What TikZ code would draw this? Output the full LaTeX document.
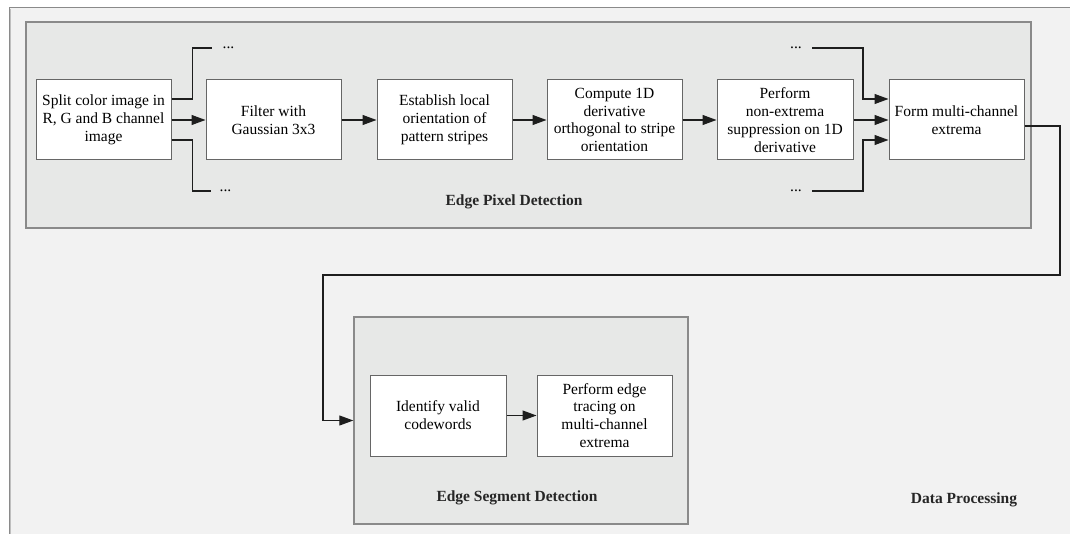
\documentclass[tikz,border=0pt]{standalone}
\usepackage{fontspec}
\setmainfont{Liberation Serif}
\usetikzlibrary{arrows.meta}
\definecolor{outerfill}{HTML}{F2F2F2}
\definecolor{panelfill}{HTML}{E7E8E7}
\definecolor{panelline}{HTML}{8A8A8A}
\definecolor{boxline}{HTML}{666666}
\definecolor{wire}{HTML}{1E1E1E}
\tikzset{
  stepbox/.style={draw=boxline, fill=white, line width=1pt, minimum width=135, minimum height=80,
    align=center, inner sep=2pt, font=\fontsize{15.5}{17.8}\selectfont},
  panel/.style={draw=panelline, fill=panelfill, line width=1.4pt, inner sep=0pt},
  caption/.style={font=\bfseries\fontsize{15.5}{18}\selectfont, text=black!85, inner sep=0pt},
  dots/.style={inner sep=0pt, anchor=base, font=\fontsize{15.5}{18}\selectfont},
  wirepath/.style={draw=wire, line width=1.1pt},
  arr/.style={wirepath, -{Triangle[length=14pt,width=10pt]}},
}
\begin{document}
\begin{tikzpicture}[x=1pt,y=-1pt]
  % page extent and the outer "Data Processing" frame
  \useasboundingbox (0,0) rectangle (1070,534);
  \begin{scope}
    \clip (0,0) rectangle (1070,534);
    \fill[white] (0,0) rectangle (1070,534);
    \draw[draw=panelline, fill=outerfill, line width=1pt] (9,8) rectangle (1085,550);
    \draw[draw=black!25, line width=1.6pt] (10.5,9) -- (10.5,550);
  \end{scope}

  % grey panels
  \node[panel, minimum width=1005, minimum height=206] (p1) at (528.5,125) {};
  \node[panel, minimum width=334, minimum height=207] (p2) at (521,420.5) {};

  % edge pixel detection chain
  \node[stepbox] (b1) at (103.5,120) {Split color image in\\R, G and B channel\\image};
  \node[stepbox] (b2) at (273.5,120) {Filter with\\Gaussian 3x3};
  \node[stepbox] (b3) at (444.5,120) {Establish local\\orientation of\\pattern stripes};
  \node[stepbox] (b4) at (614.5,120) {Compute 1D\\derivative\\orthogonal to stripe\\orientation};
  \node[stepbox, minimum width=136] (b5) at (785,120) {Perform\\non-extrema\\suppression on 1D\\derivative};
  \node[stepbox] (b6) at (956.5,120) {Form multi-channel\\extrema};

  % edge segment detection chain
  \node[stepbox, minimum width=136, minimum height=81] (b7) at (438,415.5) {Identify valid\\codewords};
  \node[stepbox, minimum height=81] (b8) at (604.5,415.5) {Perform edge\\tracing on\\multi-channel\\extrema};

  % the other channels, elided
  \node[dots] (d1) at (228.5,49) {...};
  \node[dots] (d2) at (225.5,192) {...};
  \node[dots] (d3) at (796,49) {...};
  \node[dots] (d4) at (796,192) {...};

  % captions
  \node[caption] (c1) at (514,202) {Edge Pixel Detection};
  \node[caption] (c2) at (517,498) {Edge Segment Detection};
  \node[caption] (c3) at (964,500) {Data Processing};

  % connectors
  \draw[arr] (b1) -- (b2);
  \draw[arr] (b2) -- (b3);
  \draw[arr] (b3) -- (b4);
  \draw[arr] (b4) -- (b5);
  \draw[arr] (b5) -- (b6);
  \draw[wirepath] ([yshift=21pt]b1.east) -- ++(21,0) |- ([xshift=-10pt,yshift=1pt]d1.base west);
  \draw[wirepath] ([yshift=-20pt]b1.east) -- ++(21,0) |- ([xshift=-8pt,yshift=1pt]d2.base west);
  \draw[arr] ([xshift=10pt,yshift=1pt]d3.base east) -- (863,48) |- ([yshift=21pt]b6.west);
  \draw[arr] ([xshift=10pt,yshift=1pt]d4.base east) -- (863,191) |- ([yshift=-20pt]b6.west);
  \draw[arr] ([yshift=-6pt]b6.east) -- (1060,126) -- (1060,275) -- (323,275) |- (p2.west);
  \draw[arr] (b7) -- (b8);
\end{tikzpicture}
\end{document}
